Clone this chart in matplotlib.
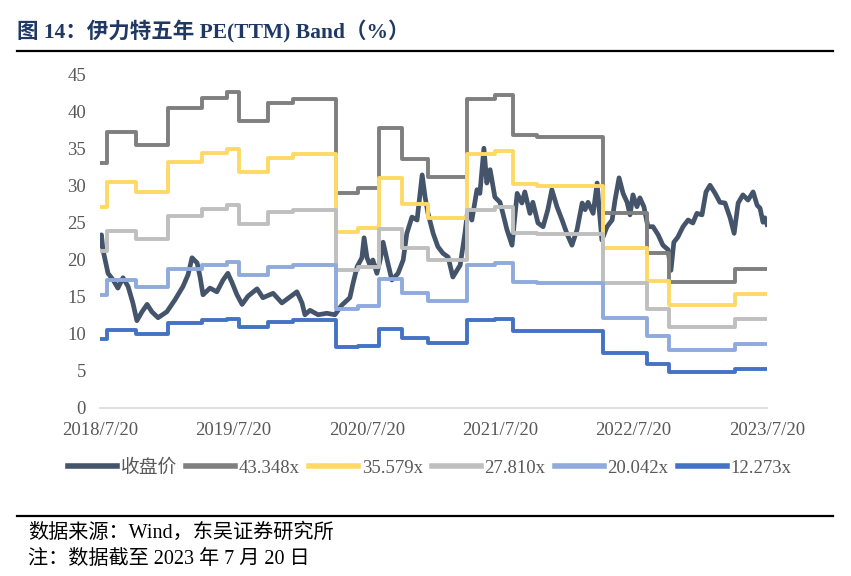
import matplotlib
matplotlib.use('Agg')

import matplotlib.pyplot as plt
import numpy as np
import pandas as pd

plt.rcParams['font.family'] = ['Liberation Serif', 'Noto Sans CJK SC']

# band multiples and legend names
multiples = [43.348, 35.579, 27.810, 20.042, 12.273]
band_names = ['43.348x', '35.579x', '27.810x', '20.042x', '12.273x']
band_colors = ['#7F7F7F', '#FFD966', '#BFBFBF', '#8FAADC', '#4472C4']

# EPS (TTM) steps, start date of each step
step_dates = ['2018-07-20', '2018-08-08', '2018-10-27', '2019-01-22', '2019-04-25',
              '2019-07-03', '2019-08-05', '2019-10-23', '2019-12-30', '2020-04-26',
              '2020-06-25', '2020-08-22', '2020-10-24', '2021-01-03', '2021-04-20',
              '2021-07-06', '2021-08-24', '2021-10-29', '2022-04-27', '2022-08-26',
              '2022-10-25', '2023-04-24']
eps_steps = [0.764, 0.860, 0.819, 0.934, 0.967, 0.985, 0.895, 0.950, 0.964, 0.669,
             0.685, 0.872, 0.775, 0.720, 0.964, 0.976, 0.851, 0.844, 0.607, 0.482,
             0.392, 0.434]
end_date = '2023-07-20'

# closing price
price_dates = ['2018-07-20', '2018-07-24', '2018-07-28', '2018-08-11', '2018-08-25',
               '2018-09-07', '2018-09-21', '2018-10-05', '2018-10-18', '2018-10-29',
               '2018-11-12', '2018-11-26', '2018-12-09', '2018-12-26', '2019-01-19',
               '2019-02-10', '2019-03-04', '2019-03-18', '2019-03-29', '2019-04-12',
               '2019-04-20', '2019-04-28', '2019-05-17', '2019-06-05', '2019-06-22',
               '2019-07-05', '2019-07-16', '2019-07-30', '2019-08-13', '2019-08-29',
               '2019-09-23', '2019-10-09', '2019-11-06', '2019-11-30', '2019-12-30',
               '2020-01-10', '2020-01-24', '2020-02-01', '2020-02-15', '2020-03-08',
               '2020-04-01', '2020-04-23', '2020-05-12', '2020-06-03', '2020-06-12',
               '2020-06-23', '2020-07-06', '2020-07-12', '2020-07-20', '2020-07-28',
               '2020-08-05', '2020-08-16', '2020-08-25', '2020-09-02', '2020-09-13',
               '2020-09-26', '2020-10-13', '2020-10-27', '2020-11-06', '2020-11-20',
               '2020-12-04', '2020-12-18', '2020-12-26', '2021-01-03', '2021-01-17',
               '2021-01-30', '2021-02-13', '2021-02-27', '2021-03-12', '2021-04-01',
               '2021-04-14', '2021-04-22', '2021-05-03', '2021-05-17', '2021-05-25',
               '2021-06-05', '2021-06-13', '2021-06-22', '2021-07-05', '2021-07-19',
               '2021-07-27', '2021-08-07', '2021-08-21', '2021-09-04', '2021-09-17',
               '2021-09-25', '2021-10-09', '2021-10-17', '2021-10-31', '2021-11-14',
               '2021-11-27', '2021-12-08', '2021-12-22', '2022-01-05', '2022-01-18',
               '2022-02-01', '2022-02-15', '2022-03-01', '2022-03-09', '2022-03-17',
               '2022-03-31', '2022-04-11', '2022-04-16', '2022-04-24', '2022-05-08',
               '2022-05-22', '2022-05-30', '2022-06-10', '2022-06-21', '2022-07-02',
               '2022-07-10', '2022-07-18', '2022-07-29', '2022-08-06', '2022-08-17',
               '2022-08-28', '2022-09-11', '2022-09-25', '2022-10-08', '2022-10-22',
               '2022-10-30', '2022-11-07', '2022-11-18', '2022-12-02', '2022-12-16',
               '2022-12-29', '2023-01-09', '2023-01-23', '2023-02-03', '2023-02-14',
               '2023-02-28', '2023-03-13', '2023-03-27', '2023-04-10', '2023-04-21',
               '2023-05-02', '2023-05-15', '2023-05-29', '2023-06-12', '2023-06-23',
               '2023-07-01', '2023-07-09', '2023-07-14', '2023-07-20']
price_values = [22.0, 23.4, 21.4, 18.2, 17.3, 16.2, 17.6, 16.4, 14.2, 11.8,
                13.0, 14.0, 13.0, 12.2, 13.0, 14.6, 16.4, 18.0, 20.3, 19.6,
                17.7, 15.3, 16.2, 15.7, 17.3, 18.2, 17.0, 15.3, 14.0, 15.1,
                16.1, 14.9, 15.5, 14.2, 15.3, 15.7, 14.2, 12.6, 13.2, 12.6,
                12.8, 12.6, 13.9, 14.9, 16.9, 19.1, 20.3, 23.0, 20.3, 19.3,
                20.0, 18.2, 20.0, 22.4, 20.0, 17.3, 18.2, 20.0, 23.6, 25.8,
                25.4, 31.5, 28.5, 26.3, 23.6, 21.8, 20.9, 20.4, 17.7, 19.3,
                23.6, 26.8, 25.4, 29.5, 29.0, 35.1, 30.4, 32.2, 28.5, 27.8,
                26.3, 24.1, 22.0, 29.0, 27.7, 29.2, 26.3, 27.8, 25.0, 24.5,
                26.8, 29.5, 27.2, 25.4, 23.6, 22.0, 24.1, 27.7, 26.8, 27.8,
                26.3, 30.4, 27.2, 22.7, 24.5, 25.4, 28.1, 31.1, 29.0, 27.8,
                26.1, 28.8, 27.2, 28.4, 27.2, 24.5, 24.5, 23.4, 22.0, 21.4,
                18.6, 22.4, 23.1, 24.5, 25.4, 25.0, 26.3, 26.1, 29.2, 30.1,
                29.0, 27.8, 27.7, 25.7, 23.6, 27.7, 28.8, 28.1, 29.2, 27.4,
                27.0, 25.1, 25.7, 24.8]

x_ticks = ['2018-07-20', '2019-07-20', '2020-07-20', '2021-07-20', '2022-07-20', '2023-07-20']
x_tick_labels = ['2018/7/20', '2019/7/20', '2020/7/20', '2021/7/20', '2022/7/20', '2023/7/20']

fig = plt.figure(figsize=(8.51, 5.76), dpi=100)
ax = fig.add_axes([0.1175, 0.2917, 0.7838, 0.5781])

# price first, bands drawn over it
ax.plot(pd.to_datetime(price_dates), price_values, color='#44546A', lw=3.4,
        solid_joinstyle='round', label='收盘价')

sx = pd.to_datetime(step_dates + [end_date])
eps = np.array(eps_steps + [eps_steps[-1]])
for m, name, c in zip(multiples, band_names, band_colors):
    ax.step(sx, eps * m, where='post', color=c, lw=2.8, label=name)

ax.set_ylim(0, 45)
ax.set_yticks(range(0, 50, 5))
ax.set_xlim(pd.Timestamp('2018-07-20'), pd.Timestamp(end_date))
ax.set_xticks(pd.to_datetime(x_ticks))
ax.set_xticklabels(x_tick_labels)

for s in ['top', 'right', 'left']:
    ax.spines[s].set_visible(False)
ax.spines['bottom'].set_color('#D9D9D9')
ax.spines['bottom'].set_linewidth(1.2)
ax.tick_params(axis='both', length=0, labelsize=13.5, labelcolor='#595959')
ax.tick_params(axis='y', pad=10)
ax.tick_params(axis='x', pad=10)

leg = fig.legend(loc='center', bbox_to_anchor=(0.505, 0.1875), ncol=6, frameon=False,
                 fontsize=13.5, handlelength=2.6, handletextpad=0.2, columnspacing=0.5)
for t in leg.get_texts():
    t.set_color('#595959')
for l in leg.get_lines():
    l.set_linewidth(4)

# title and footer
fig.text(0.020, 1 - 32 / 576, '图 14：伊力特五年 PE(TTM) Band（%）', fontsize=15.5,
         fontweight='bold', color='#1F3864', va='center', ha='left')
fig.add_artist(plt.Line2D([17 / 851, 833 / 851], [1 - 51 / 576, 1 - 51 / 576],
                          color='black', lw=1.6))
fig.add_artist(plt.Line2D([17 / 851, 833 / 851], [1 - 516 / 576, 1 - 516 / 576],
                          color='black', lw=1.6))
fig.text(0.033, 1 - 533 / 576, '数据来源：Wind，东吴证券研究所', fontsize=14.5,
         color='black', va='center', ha='left')
fig.text(0.033, 1 - 559 / 576, '注：数据截至 2023 年 7 月 20 日', fontsize=14.5,
         color='black', va='center', ha='left')

plt.savefig('out.png', dpi=100)
